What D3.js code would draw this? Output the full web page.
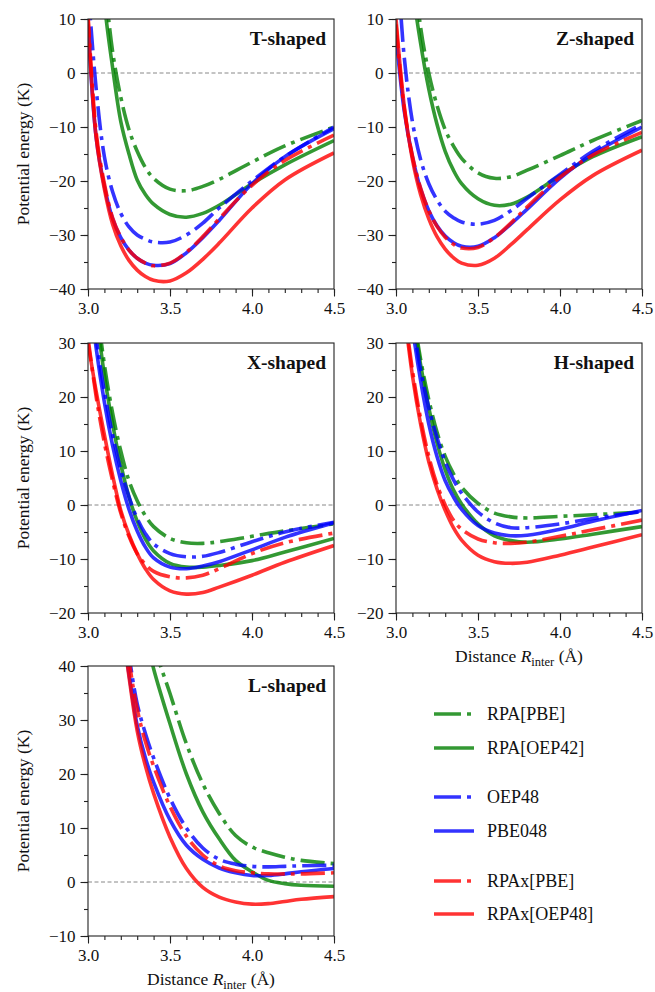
<!DOCTYPE html>
<html>
<head>
    <meta charset="utf-8">
    <title></title>
    <script src="https://cdn.jsdelivr.net/npm/d3@7"></script>
    <style>
        body{ margin:0; background:#fff; }
        text{ font-family: "Liberation Serif", "DejaVu Serif", serif; fill:#111; }
        .axis path, .axis line{ stroke:#222; stroke-width:1.1; }
        .title{ font-size:19.5px; font-weight:bold; }
        .label{ font-size:17.5px; }
        .legend{ font-size:18px; }
    </style>
</head>
<body>

<script type="text/javascript">

    // distance grid (Å) for the T, Z, X and H panels
    var xGrid = [3.0, 3.05, 3.1, 3.15, 3.2, 3.25, 3.3, 3.35, 3.4, 3.5, 3.6, 3.7, 3.8, 4.0, 4.2, 4.5];
    // distance grid for the L panel
    var xGridL = [3.1, 3.2, 3.25, 3.3, 3.35, 3.4, 3.5, 3.6, 3.7, 3.8, 3.9, 4.0, 4.1, 4.2, 4.3, 4.5];

    var methods = ["RPA[PBE]", "RPA[OEP42]", "OEP48", "PBE048", "RPAx[PBE]", "RPAx[OEP48]"];
    var colors  = ["#008000", "#008000", "#0000ff", "#0000ff", "#ff0000", "#ff0000"];
    var dashed  = [true, false, true, false, true, false];

    // potential energy (K), one array per method, same order as methods
    var tShaped = [
        [60, 38, 18, 4, -4.5, -10.5, -14.5, -17.5, -19.5, -21.5, -21.8, -21, -19.7, -16.5, -13.5, -10],
        [55, 35, 13, 1, -9, -15, -19.8, -22.5, -24.3, -26.2, -26.7, -26, -24.5, -20.5, -17, -12.5],
        [16, -3, -15.5, -22, -26, -28.5, -30, -30.8, -31.3, -31.3, -30, -27.8, -25, -20, -15.5, -10],
        [9, -12, -21, -27, -30.5, -32.8, -34.3, -35.2, -35.6, -35.3, -33.3, -30.5, -27.3, -20.5, -15.5, -10.3],
        [11, -11, -20.5, -26.8, -30.4, -32.8, -34.3, -35.2, -35.7, -35.2, -33.2, -30.3, -27, -20.8, -16.2, -11.5],
        [10, -12, -21.5, -28, -32, -34.7, -36.5, -37.7, -38.4, -38.5, -37, -34.5, -31.5, -25, -19.8, -14.8]
    ];
    var zShaped = [
        [60, 40, 22, 8.5, 0, -6, -10.5, -13.5, -15.8, -18.5, -19.5, -19.2, -18, -15.3, -12.5, -8.8],
        [55, 33, 16, 5.5, -3, -9.5, -14.5, -18, -20.5, -23.3, -24.5, -24.3, -23, -19, -15.5, -11.8],
        [25, 3, -9, -16, -20.5, -23.5, -25.6, -26.8, -27.6, -28, -27.3, -25.5, -23.2, -18.8, -14.5, -9.5],
        [7, -7, -15.5, -21.5, -25.5, -28.3, -30.2, -31.4, -32.1, -32.1, -30.5, -28, -25.2, -19.5, -15, -10],
        [9, -6.5, -15.3, -21.3, -25.5, -28.4, -30.4, -31.7, -32.4, -32.3, -30.5, -27.8, -24.8, -19.3, -15.2, -11],
        [10, -6, -16, -22.5, -27, -30.3, -32.6, -34.2, -35.2, -35.6, -34.3, -31.8, -29, -23.5, -19, -14.3]
    ];
    var xShaped = [
        [55, 38, 26, 17, 10, 4.5, 0.8, -2, -4, -6.2, -7, -7.1, -6.8, -5.8, -4.8, -3.5],
        [52, 36, 24, 15, 7.5, 1.5, -3, -6.3, -8.5, -10.8, -11.5, -11.5, -11.2, -10.3, -8.7, -6.2],
        [48, 31, 21, 13, 6.5, 1.5, -2.5, -5.3, -7.2, -9, -9.6, -9.5, -8.8, -6.8, -5, -3.2],
        [42, 29, 19, 11, 4.5, -0.8, -4.8, -7.8, -9.8, -11.5, -11.8, -11.3, -10.5, -8.3, -6, -3.3],
        [31, 20, 11.5, 4.5, -1.5, -5.8, -9, -11, -12.3, -13.3, -13.5, -13, -11.8, -9, -7, -5.2],
        [30, 21, 13, 5.5, -1, -5.5, -9, -11.8, -13.8, -15.9, -16.5, -16.2, -15.2, -13, -10.6, -7.5]
    ];
    var hShaped = [
        [68, 51, 37, 27, 19.5, 13.5, 9, 5.8, 3.3, 0.3, -1.5, -2.2, -2.4, -2.1, -1.8, -1.3],
        [68, 50, 36, 26, 18, 11.5, 6.5, 2.8, 0.2, -3.5, -5.7, -6.6, -6.9, -6.3, -5.4, -4],
        [66, 49, 35, 25, 18, 12.5, 8, 4.7, 2.2, -1.3, -3.3, -4.2, -4.2, -3.5, -2.5, -1.2],
        [62, 46, 33, 23, 15, 9, 4.5, 1.5, -0.8, -3.8, -5.2, -5.7, -5.6, -4.5, -3, -1],
        [52, 37, 25, 16, 9, 3.8, 0, -2.8, -4.5, -6.3, -7, -7.1, -6.9, -5.8, -4.6, -2.8],
        [50, 36, 24, 15, 8, 3, -1, -4.2, -6.5, -9.3, -10.5, -10.8, -10.6, -9.3, -7.8, -5.5]
    ];
    var lShaped = [
        [110, 82, 70, 60, 51, 44, 34.9, 25.6, 18.2, 12.7, 8.6, 6.5, 5.4, 4.6, 4, 3.4],
        [100, 75, 63, 54, 46, 39.5, 29.3, 20, 13, 8, 4, 1.9, 0.3, -0.3, -0.6, -0.8],
        [80, 53, 42, 33, 27.5, 23, 15.5, 10, 6.3, 4.2, 3.3, 2.9, 2.8, 2.9, 3, 3.1],
        [75, 49, 38.5, 29, 23, 18.5, 11.5, 6.8, 4.2, 2.6, 1.7, 1.2, 1.2, 1.5, 1.9, 2.5],
        [79, 52, 41, 32, 26, 21.5, 14, 8.5, 5, 3, 2.1, 1.7, 1.5, 1.5, 1.5, 1.7],
        [75, 50, 38, 28, 21.5, 16.4, 8.3, 2.5, -1, -2.8, -3.7, -4.1, -4, -3.6, -3.2, -2.7]
    ];

    var xTicks = [3.0, 3.5, 4.0, 4.5];

    var panels = [
        {name: "T-shaped", col: 0, row: 0, x: xGrid, data: tShaped, yDomain: [-40, 10]},
        {name: "Z-shaped", col: 1, row: 0, x: xGrid, data: zShaped, yDomain: [-40, 10]},
        {name: "X-shaped", col: 0, row: 1, x: xGrid, data: xShaped, yDomain: [-20, 30]},
        {name: "H-shaped", col: 1, row: 1, x: xGrid, data: hShaped, yDomain: [-20, 30]},
        {name: "L-shaped", col: 0, row: 2, x: xGridL, data: lShaped, yDomain: [-10, 40]}
    ];

    var w = 655, h = 992,
        colLeft = [88, 396],
        rowTop = [19, 343, 666],
        pw = 246, ph = 270,
        lw = 3.6,
        serif = "Liberation Serif, DejaVu Serif, serif",
        dash = "24,6,4,6";

    var svg = d3.select("body")
            .append("svg")
            .attr("width", w)
            .attr("height", h);

    panels.forEach(function (p, k) {
        var left = colLeft[p.col], top = rowTop[p.row];

        var x = d3.scaleLinear().domain([3.0, 4.5]).range([0, pw]);
        var y = d3.scaleLinear().domain(p.yDomain).range([ph, 0]);

        var g = svg.append("g").attr("transform", "translate(" + left + "," + top + ")");

        g.append("clipPath").attr("id", "clip" + k)
            .append("rect").attr("width", pw).attr("height", ph);

        // zero line
        g.append("line")
            .attr("x1", 0).attr("x2", pw)
            .attr("y1", y(0)).attr("y2", y(0))
            .attr("stroke", "#888").attr("stroke-width", 1)
            .attr("stroke-dasharray", "4,2.5");

        var line = d3.line()
            .x(function (d) { return x(d[0]); })
            .y(function (d) { return y(d[1]); })
            .curve(d3.curveCatmullRom.alpha(0.5));

        g.append("g").attr("clip-path", "url(#clip" + k + ")")
            .selectAll("path")
            .data(p.data)
            .enter()
            .append("path")
            .attr("d", function (vals) {
                return line(vals.map(function (v, i) { return [p.x[i], v]; }));
            })
            .attr("fill", "none")
            .attr("stroke", function (d, i) { return colors[i]; })
            .attr("stroke-opacity", 0.8)
            .attr("stroke-width", lw)
            .attr("stroke-dasharray", function (d, i) { return dashed[i] ? dash : null; });

        // frame
        g.append("rect")
            .attr("width", pw).attr("height", ph)
            .attr("fill", "none").attr("stroke", "#222").attr("stroke-width", 1.1);

        // axes with minor ticks
        var yTicks = d3.range(p.yDomain[0], p.yDomain[1] + 1, 10);
        var yMinor = d3.range(p.yDomain[0], p.yDomain[1] + 1, 5);
        var xMinor = d3.range(30, 46).map(function (v) { return v / 10; });

        function style(s) {
            s.select(".domain").remove();
            s.attr("font-family", serif).attr("font-size", 17);
            s.selectAll("text").attr("fill", "#111");
        }

        g.append("g").attr("class", "axis")
            .attr("transform", "translate(0," + ph + ")")
            .call(d3.axisBottom(x).tickValues(xMinor).tickSize(4).tickFormat(""))
            .call(style);
        g.append("g").attr("class", "axis")
            .attr("transform", "translate(0," + ph + ")")
            .call(d3.axisBottom(x).tickValues(xTicks).tickSize(7.5).tickPadding(5).tickFormat(d3.format(".1f")))
            .call(style);

        g.append("g").attr("class", "axis")
            .call(d3.axisLeft(y).tickValues(yMinor).tickSize(4).tickFormat(""))
            .call(style);
        g.append("g").attr("class", "axis")
            .call(d3.axisLeft(y).tickValues(yTicks).tickSize(7.5).tickPadding(5).tickFormat(d3.format("d")))
            .call(style);

        g.append("text")
            .attr("class", "title")
            .attr("x", pw - 8).attr("y", 26)
            .attr("text-anchor", "end")
            .text(p.name);

        if (p.col === 0) {
            g.append("text")
                .attr("class", "label")
                .attr("transform", "translate(" + (-59) + "," + (ph / 2) + ") rotate(-90)")
                .attr("text-anchor", "middle")
                .text("Potential energy (K)");
        }
        if (p.name === "H-shaped" || p.name === "L-shaped") {
            var t = g.append("text")
                .attr("class", "label")
                .attr("x", pw / 2).attr("y", ph + 49)
                .attr("text-anchor", "middle");
            t.append("tspan").text("Distance ");
            t.append("tspan").attr("font-style", "italic").text("R");
            t.append("tspan").attr("font-size", "12.5px").attr("dy", 3.5).text("inter");
            t.append("tspan").attr("dy", -3.5).text(" (Å)");
        }
    });

    // legend
    var legendY = [714, 748, 797, 831, 881, 914];
    var lg = svg.append("g");
    methods.forEach(function (m, i) {
        lg.append("line")
            .attr("x1", 434).attr("x2", 474)
            .attr("y1", legendY[i]).attr("y2", legendY[i])
            .attr("stroke", colors[i]).attr("stroke-opacity", 0.8)
            .attr("stroke-width", lw)
            .attr("stroke-dasharray", dashed[i] ? "27,6,4,6" : null);
        lg.append("text")
            .attr("class", "legend")
            .attr("x", 487).attr("y", legendY[i] + 6)
            .text(m);
    });
</script>
</body>
</html>
